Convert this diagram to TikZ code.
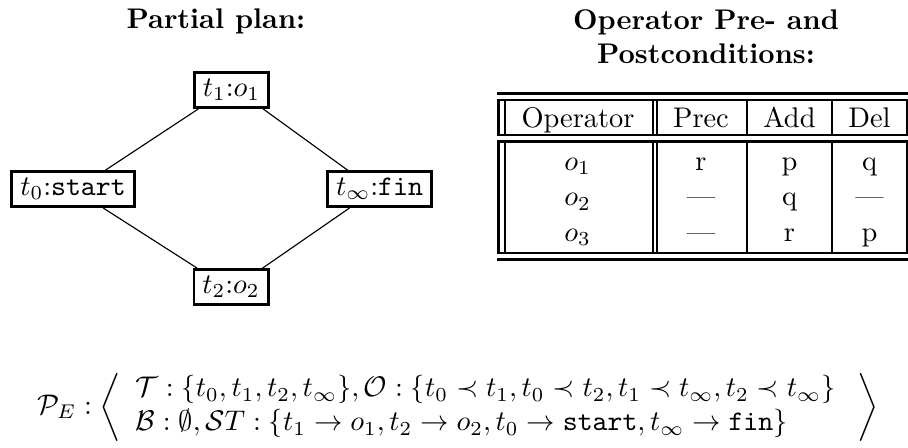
\documentclass[tikz,border=0pt]{standalone}
\usetikzlibrary{calc}
\begin{document}
\begin{tikzpicture}[x=0.3521pt,y=-0.3521pt,
  stepnode/.style={draw,line width=0.9pt,inner xsep=3pt,inner ysep=0pt,minimum height=12.4pt},
  edgeline/.style={line width=0.4pt},
  rulel/.style={line width=0.75pt},
  titlenode/.style={font=\bfseries,align=center},
  cell/.style={anchor=base,inner sep=0pt}]
\useasboundingbox (0,0) rectangle (908,447);
% titles
\node[titlenode] (ttl1) at (216,21) {Partial plan:};
\node[titlenode] (ttl2) at (706,37) {Operator Pre- and\\Postconditions:};
% plan nodes
\node[stepnode] (t1) at (231.5,90) {$t_1$:$o_1$};
\node[stepnode] (t0) at (73,189) {$t_0$:\texttt{start}};
\node[stepnode] (tinf) at (379.5,189) {$t_\infty$:\texttt{fin}};
\node[stepnode] (t2) at (231,287) {$t_2$:$o_2$};
% connectors
\draw[edgeline] ($(t0.north west)!0.76!(t0.north east)$) -- ($(t1.south west)!0.07!(t1.south east)$);
\draw[edgeline] ($(t1.south west)!0.91!(t1.south east)$) -- ($(tinf.north west)!0.2!(tinf.north east)$);
\draw[edgeline] ($(t0.south west)!0.74!(t0.south east)$) -- ($(t2.north west)!0.06!(t2.north east)$);
\draw[edgeline] ($(t2.north west)!0.91!(t2.north east)$) -- ($(tinf.south west)!0.22!(tinf.south east)$);
% table rules
\foreach \yy in {93.5,100,135,141.5,253,259.5}
  \draw[rulel] (497,\yy) -- (908,\yy);
\foreach \xx in {498.5,505,653,656.7,746.7,832.3,906.8}{
  \draw[rulel] (\xx,100) -- (\xx,135);
  \draw[rulel] (\xx,141.5) -- (\xx,253);
}
% table header
\node[cell] (hop) at (578,127.7) {Operator};
\node[cell] (hpr) at (701,127.7) {Prec};
\node[cell] (had) at (789.5,127.7) {Add};
\node[cell] (hde) at (869.5,127.7) {Del};
% table body
\node[cell] (o1) at (577.5,170) {$o_1$};
\node[cell] (p1) at (701,170) {r};
\node[cell] (a1) at (789.5,170) {p};
\node[cell] (d1) at (869.5,170) {q};
\node[cell] (o2) at (577.5,205.8) {$o_2$};
\node[cell] (p2) at (701,205.8) {---};
\node[cell] (a2) at (789.5,205.8) {q};
\node[cell] (d2) at (869.5,205.8) {---};
\node[cell] (o3) at (577.5,241.7) {$o_3$};
\node[cell] (p3) at (701,241.7) {---};
\node[cell] (a3) at (789.5,241.7) {r};
\node[cell] (d3) at (869.5,241.7) {p};
% formula
\node[inner sep=0pt] (pe) at (458,407) {$\mathcal{P}_{E} : \left\langle
  \begin{array}{l}
  \mathcal{T} : \{t_0, t_1, t_2, t_\infty\}, \mathcal{O} : \{t_0 \prec t_1, t_0 \prec t_2, t_1 \prec t_\infty, t_2 \prec t_\infty\}\\
  \mathcal{B} : \emptyset, \mathcal{S}T : \{t_1 \rightarrow o_1, t_2 \rightarrow o_2, t_0 \rightarrow \texttt{start}, t_\infty \rightarrow \texttt{fin}\}
  \end{array}\;\right\rangle$};
\end{tikzpicture}
\end{document}
